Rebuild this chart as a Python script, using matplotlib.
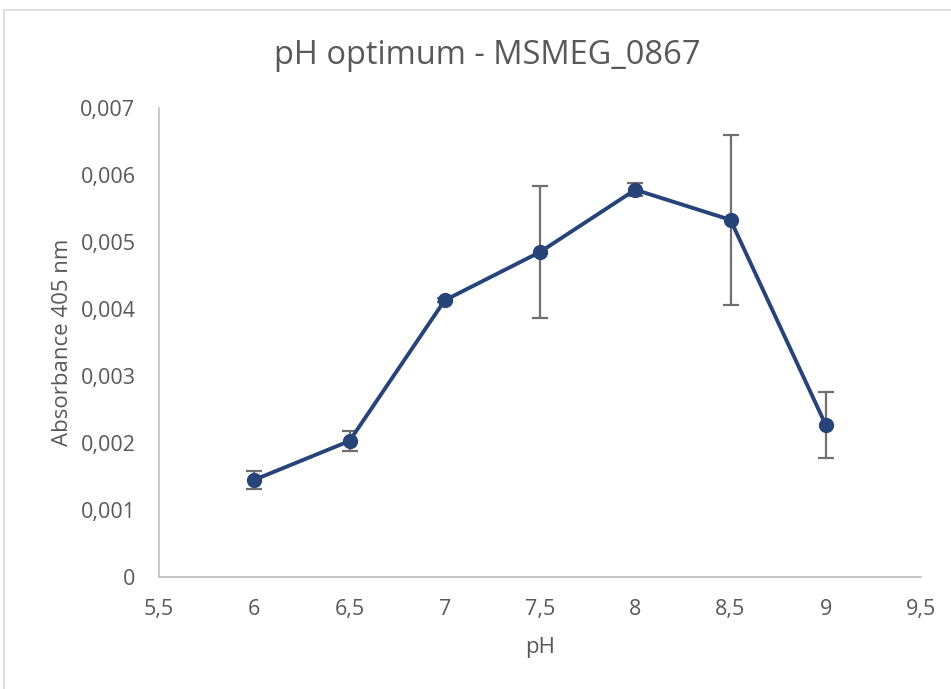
import matplotlib
matplotlib.use("Agg")
import matplotlib.pyplot as plt
from matplotlib.ticker import FuncFormatter, MultipleLocator
from matplotlib.patches import Rectangle

# data
ph = [6, 6.5, 7, 7.5, 8, 8.5, 9]
absorbance = [0.00145, 0.00203, 0.00413, 0.00485, 0.00578, 0.00533, 0.00227]
err = [0.00013, 0.00015, 0.00003, 0.00099, 0.0001, 0.00127, 0.00049]

dpi = 100
plt.rcParams['font.family'] = ['Open Sans', 'DejaVu Sans']

fig = plt.figure(figsize=(951 / dpi, 689 / dpi), dpi=dpi)
ax = fig.add_axes([159 / 951, 1 - 577 / 689, (921 - 159) / 951, (577 - 108) / 689])

# chart border like the spreadsheet frame
fig.patches.append(Rectangle((4 / 951, -0.01), 2, 1 - 10 / 689 + 0.01, transform=fig.transFigure,
                             fill=False, edgecolor='#d9d9d9', linewidth=1.2))

line_col = '#264478'
ax.errorbar(ph, absorbance, yerr=err, color=line_col, linewidth=2.8, marker='o', markersize=10,
            ecolor='#707070', elinewidth=1.6, capsize=6, capthick=1.6, zorder=3)

ax.set_xlim(5.5, 9.5)
ax.set_ylim(0, 0.007)
ax.xaxis.set_major_locator(MultipleLocator(0.5))
ax.yaxis.set_major_locator(MultipleLocator(0.001))

comma = lambda fmt: FuncFormatter(lambda v, p: fmt(v).replace('.', ','))
ax.xaxis.set_major_formatter(comma(lambda v: ('%g' % v)))
ax.yaxis.set_major_formatter(comma(lambda v: '0' if abs(v) < 1e-12 else '%.3f' % v))

for s in ['top', 'right']:
    ax.spines[s].set_visible(False)
for s in ['left', 'bottom']:
    ax.spines[s].set_color('#bfbfbf')
    ax.spines[s].set_linewidth(1.2)

ax.tick_params(axis='x', length=0, labelsize=15.5, labelcolor='#595959', pad=16)
ax.tick_params(axis='y', length=0, labelsize=15.5, labelcolor='#595959', pad=17)

ax.set_xlabel('pH', fontsize=16, color='#595959', labelpad=12)
ax.set_ylabel('Absorbance 405 nm', fontsize=16, color='#595959', labelpad=5)
fig.text(487 / 951, 1 - 55 / 689, 'pH optimum - MSMEG_0867', ha='center', va='center', fontsize=23.5, color='#595959')

fig.savefig('out.png', dpi=dpi)
